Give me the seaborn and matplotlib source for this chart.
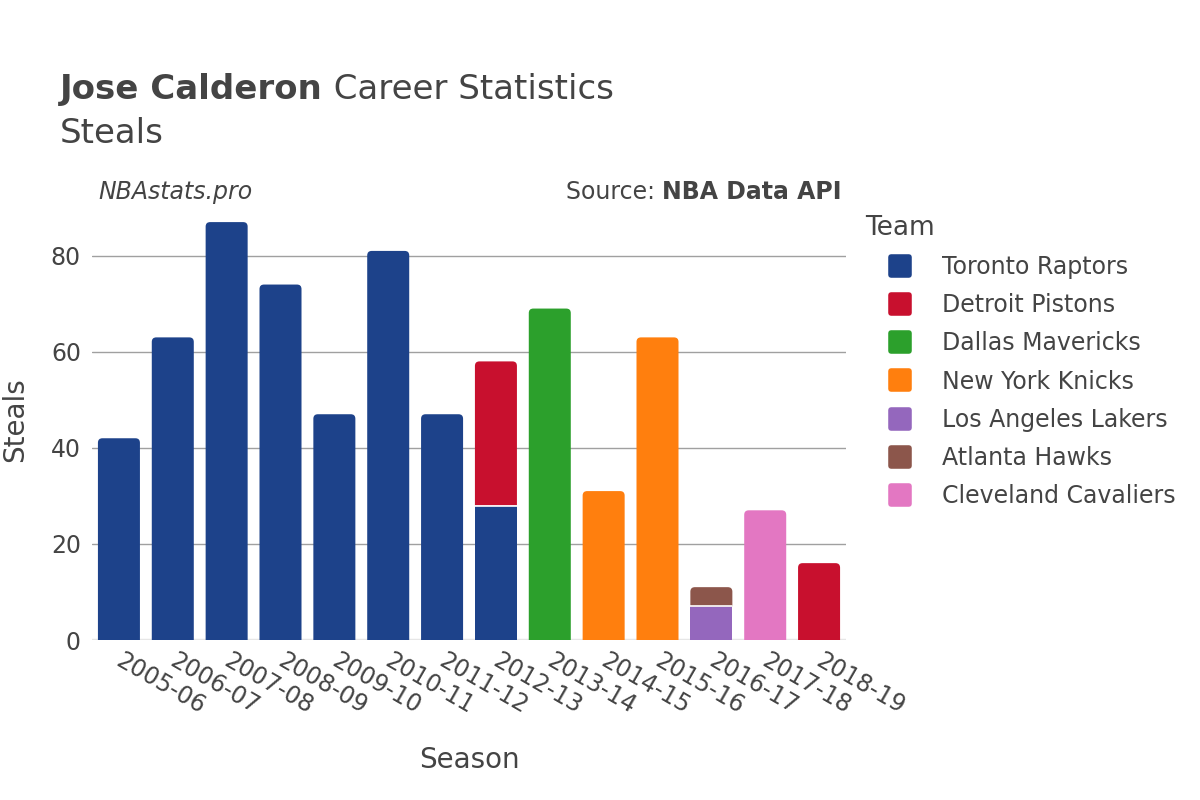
import numpy as np
import pandas as pd
import matplotlib
matplotlib.use("Agg")
import matplotlib.pyplot as plt
from matplotlib.patches import PathPatch
from matplotlib.path import Path
from matplotlib.lines import Line2D
from matplotlib.markers import MarkerStyle
from matplotlib.transforms import ScaledTranslation
import seaborn as sns

seasons = ["2005-06", "2006-07", "2007-08", "2008-09", "2009-10", "2010-11", "2011-12",
           "2012-13", "2013-14", "2014-15", "2015-16", "2016-17", "2017-18", "2018-19"]

# stacking order, bottom first
teams = ["Toronto Raptors", "Detroit Pistons", "Dallas Mavericks", "New York Knicks",
         "Los Angeles Lakers", "Atlanta Hawks", "Cleveland Cavaliers"]
team_colors = ["#1d428a", "#c8102e", "#2ca02c", "#ff7f0e", "#9467bd", "#8c564b", "#e377c2"]

toronto = [42, 63, 87, 74, 47, 81, 47, 28, 0, 0, 0, 0, 0, 0]
detroit = [0, 0, 0, 0, 0, 0, 0, 30, 0, 0, 0, 0, 0, 16]
dallas = [0, 0, 0, 0, 0, 0, 0, 0, 69, 0, 0, 0, 0, 0]
knicks = [0, 0, 0, 0, 0, 0, 0, 0, 0, 31, 63, 0, 0, 0]
lakers = [0, 0, 0, 0, 0, 0, 0, 0, 0, 0, 0, 7, 0, 0]
hawks = [0, 0, 0, 0, 0, 0, 0, 0, 0, 0, 0, 4, 0, 0]
cavs = [0, 0, 0, 0, 0, 0, 0, 0, 0, 0, 0, 0, 27, 0]

team_values = [toronto, detroit, dallas, knicks, lakers, hawks, cavs]

TEXT = "#444444"
W, H = 1200, 800


def round_top_path(x0, y0, w, h, rx, ry):
    """Rectangle path with only the two top corners rounded."""
    ry = min(ry, h)
    x1, y1 = x0 + w, y0 + h
    verts = [(x0, y0), (x1, y0), (x1, y1 - ry), (x1, y1), (x1 - rx, y1),
             (x0 + rx, y1), (x0, y1), (x0, y1 - ry), (x0, y0)]
    codes = [Path.MOVETO, Path.LINETO, Path.LINETO, Path.CURVE3, Path.CURVE3,
             Path.LINETO, Path.CURVE3, Path.CURVE3, Path.CLOSEPOLY]
    return Path(verts, codes)


def main():
    sns.set_theme(style="white")
    plt.rcParams["font.family"] = ["DejaVu Sans"]

    fig = plt.figure(figsize=(12, 8), dpi=100)
    ax = fig.add_axes([92 / W, 1 - 640 / H, (846 - 92) / W, (640 - 200) / H])

    ax.set_xlim(-0.5, len(seasons) - 0.5)
    ax.set_ylim(0, 91.6)

    cum = np.zeros(len(seasons))
    tops = np.array([sum(v[i] for v in team_values) for i in range(len(seasons))])
    # corner radius: ~4.5 px in both directions
    rx = 4.5 / 53.86
    ry = 4.5 / 4.8
    for team, color, vals in zip(teams, team_colors, team_values):
        vals = np.array(vals, dtype=float)
        df = pd.DataFrame({"season": seasons, "steals": vals})
        n_before = len(ax.patches)
        sns.barplot(data=df, x="season", y="steals", order=seasons, color=color,
                    width=0.78, bottom=cum.copy(), saturation=1, ax=ax,
                    edgecolor="none", linewidth=0)
        new = list(ax.patches[n_before:])
        for i, p in enumerate(new):
            if vals[i] <= 0:
                p.set_visible(False)
                continue
            x0, y0 = p.get_x(), p.get_y()
            w, h = p.get_width(), p.get_height()
            p.set_zorder(2)
            if abs(cum[i] + vals[i] - tops[i]) < 1e-9:
                ax.add_patch(PathPatch(round_top_path(x0, y0, w, h, rx, ry),
                                       facecolor=color, edgecolor="none", zorder=2))
                p.set_visible(False)
            if y0 > 0:
                ax.plot([x0, x0 + w], [y0, y0], color="white", lw=1.2, zorder=3)
        cum = cum + vals

    ax.set_xlim(-0.5, len(seasons) - 0.5)
    ax.set_ylim(0, 91.6)
    ax.set_yticks([0, 20, 40, 60, 80])
    ax.yaxis.grid(True, color="#a0a0a0", linewidth=1)
    ax.set_axisbelow(True)
    ax.axhline(0, color="#e6e6e6", lw=2.5, zorder=1)
    for s in ax.spines.values():
        s.set_visible(False)
    ax.tick_params(axis="both", length=0, labelsize=17, colors=TEXT)
    ax.tick_params(axis="y", pad=8)
    ax.tick_params(axis="x", pad=6)
    shift = ScaledTranslation(5 / 100, 0, fig.dpi_scale_trans)
    for lab in ax.get_xticklabels():
        lab.set_rotation(-30)
        lab.set_ha("left")
        lab.set_rotation_mode("anchor")
        lab.set_transform(lab.get_transform() + shift)

    ax.set_xlabel("Season", fontsize=20, color=TEXT, labelpad=20)
    ax.set_ylabel("Steals", fontsize=20, color=TEXT)
    ax.yaxis.set_label_coords((29 - 92) / 754, 0.5)

    fig.canvas.draw()
    renderer = fig.canvas.get_renderer()

    t1 = fig.text(60 / W, 1 - 99 / H, "Jose Calderon", fontsize=24.5,
                  fontweight="bold", color=TEXT, va="baseline")
    bb = t1.get_window_extent(renderer)
    fig.text(bb.x1 / W, 1 - 99 / H, " Career Statistics", fontsize=24.5,
             color=TEXT, va="baseline")
    fig.text(60 / W, 1 - 143 / H, "Steals", fontsize=24.5, color=TEXT, va="baseline")
    fig.text(98 / W, 1 - 199 / H, "NBAstats.pro", fontsize=17, style="italic",
             color=TEXT, va="baseline")
    src_b = fig.text(842 / W, 1 - 199 / H, "NBA Data API", fontsize=17,
                     fontweight="bold", color=TEXT, va="baseline", ha="right")
    bb = src_b.get_window_extent(renderer)
    fig.text(bb.x0 / W, 1 - 199 / H, "Source: ", fontsize=17, color=TEXT,
             va="baseline", ha="right")

    handles = [Line2D([0], [0], marker=MarkerStyle("s", joinstyle="round"),
                      linestyle="none", markersize=13, markeredgewidth=4,
                      markerfacecolor=c, markeredgecolor=c) for c in team_colors]
    leg = fig.legend(handles, teams, title="Team", loc="upper left",
                     bbox_to_anchor=(865 / W, 1 - 215 / H), frameon=False,
                     fontsize=17, title_fontsize=19, labelspacing=0.6,
                     handlelength=3.0, handletextpad=0.25,
                     borderaxespad=0, borderpad=0)
    leg._legend_box.align = "left"
    for t in leg.get_texts():
        t.set_color(TEXT)
    leg.get_title().set_color(TEXT)

    fig.savefig("out.png", dpi=100)
    plt.close(fig)


if __name__ == "__main__":
    main()
